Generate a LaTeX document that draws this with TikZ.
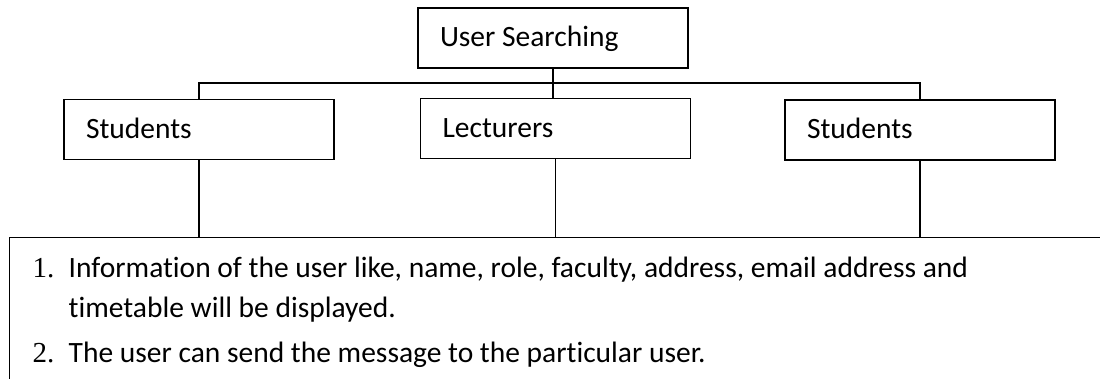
\documentclass[tikz,border=0pt]{standalone}
\usepackage{fontspec}
\setmainfont[Ligatures={NoCommon,NoContextual}]{Carlito}
\newfontfamily\numfont{Liberation Serif}
\begin{document}
\begin{tikzpicture}[x=1pt, y=-1pt, line width=1.4pt,
  box/.style={draw, text width=226pt, text height=23pt, text depth=6pt, inner xsep=22pt, inner ysep=0pt, minimum height=60pt, align=flush left, font=\fontsize{29.5}{35}\selectfont},
  item/.style={anchor=base west, inner sep=0pt, font=\fontsize{29.5}{35}\selectfont},
  num/.style={item, font=\numfont\fontsize{29}{34}\selectfont}]
  \useasboundingbox (0,0) rectangle (1100,378);
  \clip (0,0) rectangle (1100,378);
  % Top box
  \node[box] (search) at (553,38) {User Searching};
  % User boxes
  \node[box] (stud1) at (199,129.5) {Students};
  \node[box] (lect) at (555.5,128.5) {Lecturers};
  \node[box] (stud2) at (920,130) {Students};
  % Details box, runs off the right and bottom edge
  \node[draw, anchor=north west, minimum width=1200pt, minimum height=200pt] (details) at (9,237) {};

  % Links
  \coordinate (bar) at (553,83);
  \draw (search.south) -- (search.south |- lect.north);
  \draw (stud1.north) |- (bar) -| (stud2.north);
  \draw (stud1.south) -- (stud1.south |- details.north);
  \draw (lect.south) -- (lect.south |- details.north);
  \draw (stud2.south) -- (stud2.south |- details.north);

  % Details
  \node[num] (n1) at (32,277) {1.};
  \node[item] (t1a) at (68,277) {Information of the user like, name, role, faculty, address, email address and};
  \node[item] (t1b) at (68,317) {timetable will be displayed.};
  \node[num] (n2) at (32,362) {2.};
  \node[item] (t2) at (68,362) {The user can send the message to the particular user.};
\end{tikzpicture}
\end{document}
